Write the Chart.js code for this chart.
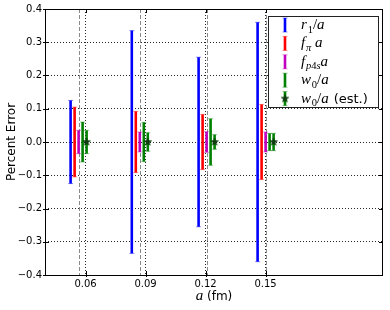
<!DOCTYPE html>
<html>
<head>
<meta charset="utf-8">
<script src="https://cdn.jsdelivr.net/npm/chart.js@4.4.1/dist/chart.umd.min.js"></script>
<style>
  html, body { margin: 0; padding: 0; background: #fff; }
  #wrap { width: 390px; height: 310px; }
</style>
</head>
<body>
<div id="wrap"><canvas id="c" width="390" height="310"></canvas></div>
<script>
// lattice spacings (fm), one group of error bars per spacing
const latticeA = [0.0565, 0.0871, 0.1205, 0.1500];
// small shift of each series inside a group, so the bars do not overlap
const seriesOffset = [-0.004, -0.002, 0, 0.002, 0.004];

// percent errors (symmetric bars around 0)
const errR1 = [0.125, 0.335, 0.255, 0.360];
const errFpi = [0.105, 0.092, 0.083, 0.113];
const errFp4s = [0.035, 0.030, 0.031, 0.030];
const errW0 = [0.060, 0.059, 0.070, 0.026];
const errW0est = [0.035, 0.028, 0.022, 0.026];

const xTicks = [0.06, 0.09, 0.12, 0.15];
const yTicks = [-0.4, -0.3, -0.2, -0.1, 0.0, 0.1, 0.2, 0.3, 0.4];

const series = [
  { name: 'r1', err: errR1, color: '#0000ff' },
  { name: 'fpi', err: errFpi, color: '#ff0000' },
  { name: 'fp4s', err: errFp4s, color: '#bf00bf' },
  { name: 'w0', err: errW0, color: '#008000' },
  { name: 'w0est', err: errW0est, color: '#008000', star: true }
];

const SANS = '"DejaVu Sans", sans-serif';
const SERIF = '"Liberation Serif", "DejaVu Serif", serif';

function makeStar(r, fill) {
  const s = document.createElement('canvas');
  const size = Math.ceil(r * 2 + 2);
  s.width = size; s.height = size;
  const c = s.getContext('2d');
  c.translate(size / 2, size / 2);
  c.beginPath();
  for (let i = 0; i < 10; i++) {
    const rr = i % 2 === 0 ? r : r * 0.42;
    const ang = -Math.PI / 2 + i * Math.PI / 5;
    c.lineTo(rr * Math.cos(ang), rr * Math.sin(ang));
  }
  c.closePath();
  c.fillStyle = fill;
  c.fill();
  c.strokeStyle = '#004000';
  c.lineWidth = 0.6;
  c.stroke();
  return s;
}
const starImg = makeStar(4, '#163816');

function fmtY(v) {
  if (Math.abs(v) < 1e-9) return '0.0';
  const s = Math.abs(v).toFixed(1);
  return v < 0 ? '\u2212' + s : s;
}

// draws one error bar with thin pale caps
function errBar(ctx, x, yTop, yBot, color) {
  ctx.save();
  ctx.strokeStyle = color;
  ctx.lineWidth = 2.6;
  ctx.beginPath();
  ctx.moveTo(x, yTop);
  ctx.lineTo(x, yBot);
  ctx.stroke();
  ctx.globalAlpha = 0.45;
  ctx.lineWidth = 1;
  ctx.beginPath();
  ctx.moveTo(x - 2.5, yTop); ctx.lineTo(x + 2.5, yTop);
  ctx.moveTo(x - 2.5, yBot); ctx.lineTo(x + 2.5, yBot);
  ctx.stroke();
  ctx.restore();
}

// mathtext-ish label: list of [text, italic, subscript, sans]
function drawMath(ctx, parts, x, y) {
  parts.forEach(function(p) {
    const sub = p[2];
    const size = sub ? 10.5 : 15;
    const fam = p[3] ? SANS : SERIF;
    ctx.font = (p[1] ? 'italic ' : '') + (p[3] ? '13px ' : size + 'px ') + fam;
    ctx.fillText(p[0], x, sub ? y + 3.5 : y);
    x += ctx.measureText(p[0]).width + (p[1] && !sub ? 0.8 : 0);
  });
}

const legendLabels = [
  [['r', true], ['1', false, true], ['/', false], ['a', true]],
  [['f', true], ['\u03c0', true, true], [' ', false], ['a', true]],
  [['f', true], ['p', true, true], ['4', false, true], ['s', true, true], ['a', true]],
  [['w', true], ['0', false, true], ['/', false], ['a', true]],
  [['w', true], ['0', false, true], ['/', false], ['a', true], [' (est.)', false, false, true]]
];

const decor = {
  id: 'decor',
  beforeDatasetsDraw(chart) {
    const ctx = chart.ctx;
    const xs = chart.scales.x, ys = chart.scales.y;
    const a = chart.chartArea;
    ctx.save();
    ctx.beginPath();
    ctx.rect(a.left, a.top, a.right - a.left, a.bottom - a.top);
    ctx.clip();
    // dashed marks at the lattice spacings
    ctx.strokeStyle = '#8a8a8a';
    ctx.lineWidth = 1;
    ctx.setLineDash([4, 2]);
    latticeA.forEach(function(v) {
      const px = Math.round(xs.getPixelForValue(v)) + 0.5;
      ctx.beginPath();
      ctx.moveTo(px, a.top);
      ctx.lineTo(px, a.bottom);
      ctx.stroke();
    });
    ctx.setLineDash([]);
    // error bars
    series.forEach(function(s, si) {
      s.err.forEach(function(e, gi) {
        const px = xs.getPixelForValue(latticeA[gi] + seriesOffset[si]);
        errBar(ctx, px, ys.getPixelForValue(e), ys.getPixelForValue(-e), s.color);
      });
    });
    ctx.restore();
  },
  afterDraw(chart) {
    const ctx = chart.ctx;
    const xs = chart.scales.x, ys = chart.scales.y;
    const a = chart.chartArea;
    ctx.save();
    // inward ticks on all four sides
    ctx.strokeStyle = '#000';
    ctx.lineWidth = 1;
    ctx.beginPath();
    yTicks.forEach(function(v) {
      const py = Math.round(ys.getPixelForValue(v)) + 0.5;
      ctx.moveTo(a.left - 2, py); ctx.lineTo(a.left + 4, py);
      ctx.moveTo(a.right, py); ctx.lineTo(a.right - 4, py);
    });
    xTicks.forEach(function(v) {
      const px = Math.round(xs.getPixelForValue(v)) + 0.5;
      ctx.moveTo(px, a.bottom + 2); ctx.lineTo(px, a.bottom - 4);
      ctx.moveTo(px, a.top); ctx.lineTo(px, a.top + 4);
    });
    ctx.stroke();
    // frame
    ctx.strokeRect(Math.round(a.left) + 0.5, Math.round(a.top) + 0.5,
      Math.round(a.right - a.left) - 1, Math.round(a.bottom - a.top));

    // axis titles
    ctx.fillStyle = '#000';
    ctx.textBaseline = 'middle';
    ctx.save();
    ctx.translate(12, (a.top + a.bottom) / 2);
    ctx.rotate(-Math.PI / 2);
    ctx.textAlign = 'center';
    ctx.font = '12px ' + SANS;
    ctx.fillText('Percent Error', 0, 0);
    ctx.restore();

    ctx.textAlign = 'left';
    ctx.textBaseline = 'alphabetic';
    ctx.font = 'italic 15px ' + SERIF;
    const wA = ctx.measureText('a').width;
    ctx.font = '12px ' + SANS;
    const wF = ctx.measureText(' (fm)').width;
    let tx = (a.left + a.right) / 2 - (wA + wF) / 2;
    ctx.font = 'italic 15px ' + SERIF;
    ctx.fillText('a', tx, 300);
    ctx.font = '12px ' + SANS;
    ctx.fillText(' (fm)', tx + wA, 300);

    // legend
    const lx = 268, ly = 16, lw = 110, lh = 91;
    ctx.fillStyle = '#fff';
    ctx.fillRect(lx, ly, lw, lh);
    ctx.strokeStyle = '#222';
    ctx.strokeRect(lx + 0.5, ly + 0.5, lw, lh);
    series.forEach(function(s, i) {
      const cy = 25 + i * 18.4;
      errBar(ctx, 285, cy - 7, cy + 7, s.color);
      if (s.star) ctx.drawImage(starImg, 285 - starImg.width / 2, cy - starImg.height / 2);
      ctx.fillStyle = '#000';
      drawMath(ctx, legendLabels[i], 301, cy + 4);
    });
    ctx.restore();
  }
};

const datasets = series.map(function(s, si) {
  return {
    label: s.name,
    data: latticeA.map(function(v) {
      return { x: v + seriesOffset[si], y: 0 };
    }),
    pointStyle: s.star ? starImg : 'circle',
    pointRadius: s.star ? 4 : 0,
    showLine: false
  };
});

const gridOpts = { color: 'rgba(0,0,0,0.85)', lineWidth: 1, drawTicks: false };
const borderOpts = { display: false, dash: [1, 2] };

new Chart(document.getElementById('c'), {
  type: 'scatter',
  data: { datasets: datasets },
  plugins: [decor],
  options: {
    responsive: false,
    animation: false,
    events: [],
    layout: { padding: { top: 9, right: 7, left: 0, bottom: 0 } },
    plugins: { legend: { display: false }, tooltip: { enabled: false } },
    scales: {
      x: {
        type: 'linear',
        min: 0.0397,
        max: 0.2087,
        afterBuildTicks: function(axis) {
          axis.ticks = xTicks.map(function(v) { return { value: v }; });
        },
        afterFit: function(axis) { axis.height = 35; },
        grid: gridOpts,
        border: borderOpts,
        ticks: {
          padding: 3,
          color: '#000',
          font: { family: 'DejaVu Sans', size: 10 },
          maxRotation: 0,
          callback: function(v) { return v.toFixed(2); }
        }
      },
      y: {
        min: -0.4,
        max: 0.4,
        afterBuildTicks: function(axis) {
          axis.ticks = yTicks.map(function(v) { return { value: v }; });
        },
        afterFit: function(axis) { axis.width = 45; },
        grid: gridOpts,
        border: borderOpts,
        ticks: {
          padding: 3,
          color: '#000',
          font: { family: 'DejaVu Sans', size: 10 },
          callback: function(v) { return fmtY(v); }
        }
      }
    }
  }
});
</script>
</body>
</html>
